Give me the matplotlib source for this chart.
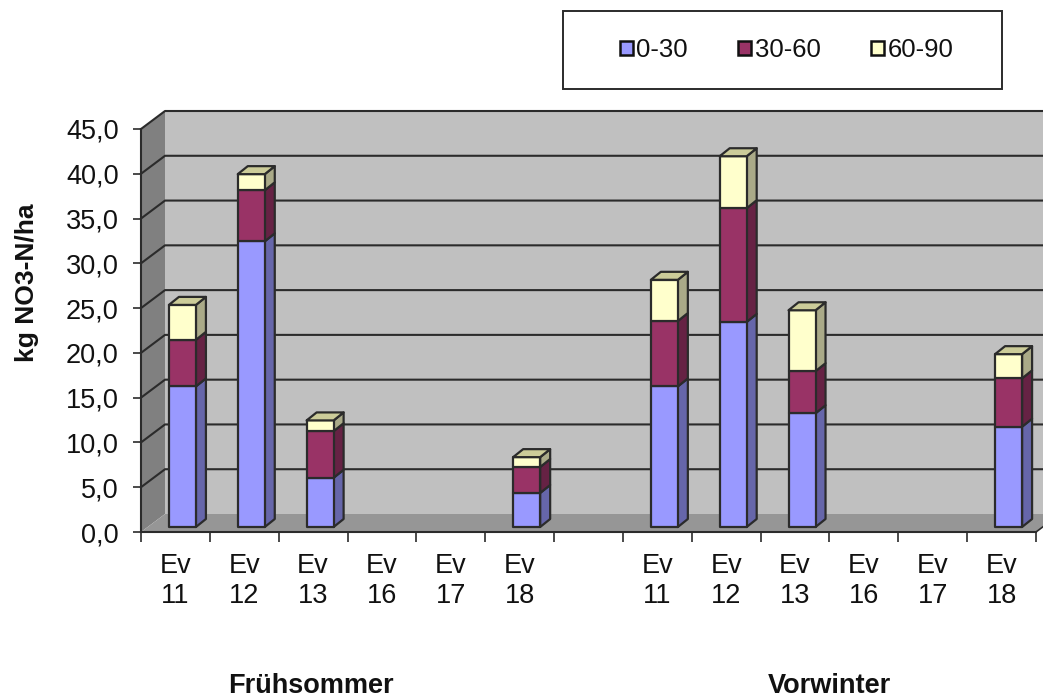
import matplotlib
matplotlib.use("Agg")
import matplotlib.pyplot as plt
from matplotlib.patches import Patch, Rectangle, Polygon

plt.rcParams['font.family'] = ['Liberation Sans', 'DejaVu Sans']

categories = ["Ev\n11", "Ev\n12", "Ev\n13", "Ev\n16", "Ev\n17", "Ev\n18", "",
              "Ev\n11", "Ev\n12", "Ev\n13", "Ev\n16", "Ev\n17", "Ev\n18"]
series_names = ["0-30", "30-60", "60-90"]
s0_30  = [15.7, 31.9, 5.5, 0, 0, 3.8, 0, 15.7, 22.9, 12.7, 0, 0, 11.2]
s30_60 = [5.2, 5.7, 5.2, 0, 0, 2.9, 0, 7.3, 12.7, 4.7, 0, 0, 5.4]
s60_90 = [3.9, 1.8, 1.2, 0, 0, 1.1, 0, 4.6, 5.8, 6.8, 0, 0, 2.7]
yticks = [0, 5, 10, 15, 20, 25, 30, 35, 40, 45]
ytick_labels = ["0,0", "5,0", "10,0", "15,0", "20,0", "25,0", "30,0", "35,0", "40,0", "45,0"]
groups = ["Frühsommer", "Vorwinter"]
front = ["#9999FF", "#993366", "#FFFFCC"]
side = ["#6666AA", "#662244", "#AAAA88"]
top = "#CCCC99"

W, H = 1043, 698
fig = plt.figure(figsize=(W / 100, H / 100), dpi=100)
L, R, B, T = 141, 1036, 532, 129
ax = fig.add_axes([L / W, 1 - B / H, (R - L) / W, (B - T) / H], facecolor="none")
ax.set_xlim(0, 13)
ax.set_ylim(0, 45)
PX = 13 / (R - L)
PY = 45 / (B - T)
DX, DY = 24 * PX, 18 * PY
dark = "#2b2b2b"

def poly(pts, fc, ec=dark, lw=1.6, z=1):
    ax.add_patch(Polygon(pts, closed=True, facecolor=fc, edgecolor=ec, linewidth=lw,
                         zorder=z, clip_on=False, joinstyle="round"))

# walls
poly([(DX, DY), (13 + DX, DY), (13 + DX, 45 + DY), (DX, 45 + DY)], "#C0C0C0", ec="none", z=1)
poly([(0, 0), (DX, DY), (DX, 45 + DY), (0, 45)], "#808080", ec="none", z=1)
poly([(0, 0), (13, 0), (13 + DX, DY), (DX, DY)], "#969696", ec="none", z=1)
for v in yticks[1:]:
    ax.plot([0, DX, 13 + DX], [v, v + DY, v + DY], color=dark, lw=1.5, zorder=2, clip_on=False)
ax.plot([13, 13 + DX], [0, DY], color=dark, lw=1.2, zorder=2, clip_on=False)

# bars
bw = 27 * PX
bx, by = 7 * PX, 5 * PY
sx, sy = 10 * PX, 8 * PY
for i in range(len(categories)):
    base = 0
    vals = [s0_30[i], s30_60[i], s60_90[i]]
    if sum(vals) == 0:
        continue
    x0 = i + 0.5 - bw / 2 + bx
    x1 = x0 + bw
    for k, v in enumerate(vals):
        y0, y1 = base + by, base + v + by
        poly([(x1, y0), (x1 + sx, y0 + sy), (x1 + sx, y1 + sy), (x1, y1)], side[k], z=3)
        poly([(x0, y0), (x1, y0), (x1, y1), (x0, y1)], front[k], z=4)
        base += v
    y1 = base + by
    poly([(x0, y1), (x1, y1), (x1 + sx, y1 + sy), (x0 + sx, y1 + sy)], top, z=4)

# axes
ax.set_xticks([i + 0.5 for i in range(13)], categories, fontsize=19.5, linespacing=1.2, color="#111111")
ax.set_xticks(list(range(14)), minor=True)
ax.set_yticks(yticks, ytick_labels, fontsize=19.5, color="#111111")
ax.tick_params(axis="x", which="major", length=0, pad=15)
ax.tick_params(axis="x", which="minor", length=7, width=1.2, color=dark)
ax.tick_params(axis="y", length=6, width=1.2, color=dark, pad=10)
for s in ("top", "right"):
    ax.spines[s].set_visible(False)
for s in ("left", "bottom"):
    ax.spines[s].set_color(dark)
    ax.spines[s].set_linewidth(1.5)
    ax.spines[s].set_zorder(5)

fig.text(27 / W, 1 - 283 / H, "kg NO3-N/ha", rotation=90, fontsize=19, fontweight="bold",
         ha="center", va="center", color="#111111")
fig.text(311 / W, 1 - 686 / H, groups[0], fontsize=19.5, fontweight="bold", ha="center", va="center", color="#111111")
fig.text(829 / W, 1 - 686 / H, groups[1], fontsize=19.5, fontweight="bold", ha="center", va="center", color="#111111")

# legend
fig.add_artist(Rectangle((563 / W, 1 - 89 / H), 439 / W, 78 / H, transform=fig.transFigure,
                         facecolor="white", edgecolor=dark, linewidth=1.4))
handles = [Patch(facecolor=c, edgecolor="#111111", linewidth=1.8, label=n) for c, n in zip(front, series_names)]
leg = fig.legend(handles=handles, loc="center", bbox_to_anchor=(786.5 / W, 1 - 50 / H), ncol=3, frameon=False,
                 fontsize=18.5, handlelength=0.5, handleheight=0.5, handletextpad=0.15, columnspacing=1.95,
                 labelcolor="#111111")

fig.savefig("out.png", dpi=100)
